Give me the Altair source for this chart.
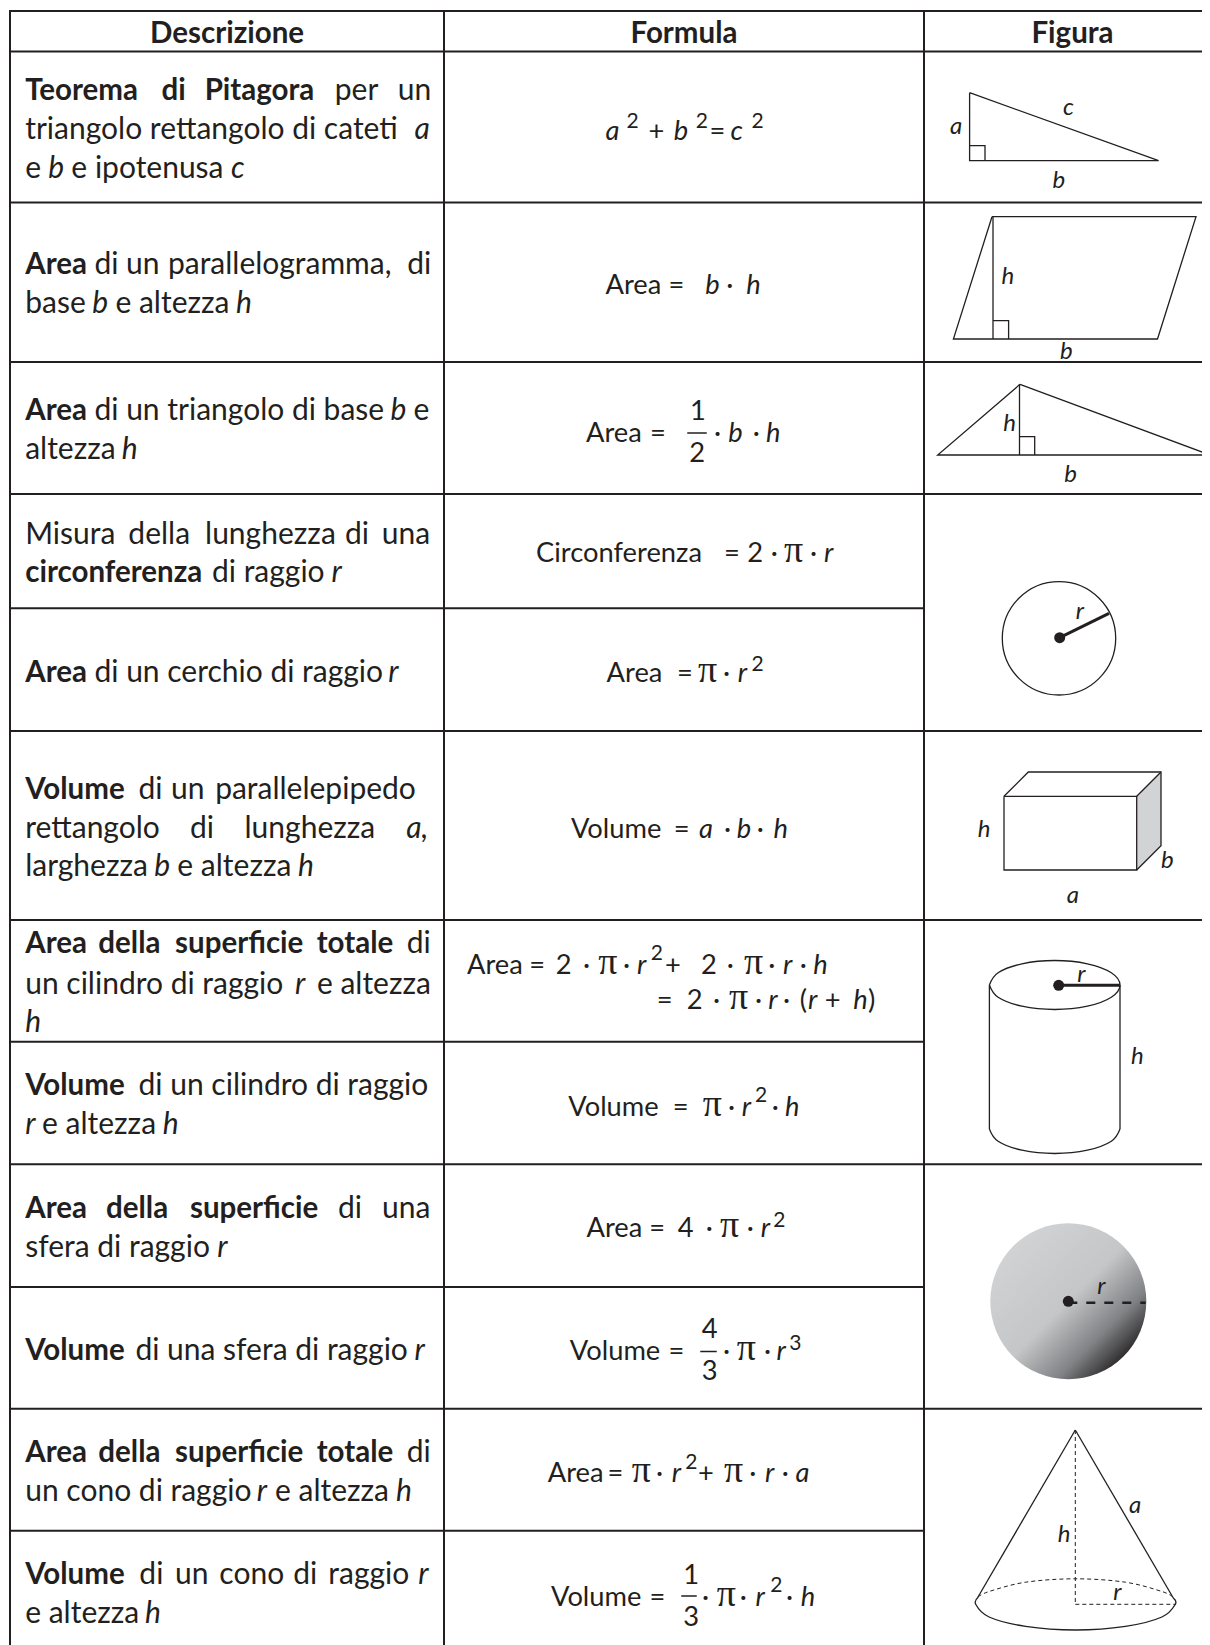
import altair as alt
import pandas as pd

K = 1210 / 1153
INK = "#231f20"
BODY = 30
HEAD = 29.5
FORM = 27.3

# ---- table rules: (x1, y1, x2, y2)
GRID = [
    (10, 11, 1202, 11), (10, 51.5, 1202, 51.5), (10, 202.5, 1202, 202.5),
    (10, 362, 1202, 362), (10, 494, 1202, 494), (10, 608.3, 924, 608.3),
    (10, 731, 1202, 731), (10, 920, 1202, 920), (10, 1041.7, 924, 1041.7),
    (10, 1164.3, 1202, 1164.3), (10, 1287, 924, 1287), (10, 1408.7, 1202, 1408.7),
    (10, 1530.7, 924, 1530.7),
    (10, 11, 10, 1645), (444, 11, 444, 1645), (924, 11, 924, 1645),
]
FRAC_BARS = [(688, 433, 706, 433), (701, 1351.5, 716, 1351.5), (682, 1596, 696, 1596)]

HEADERS = [("Descrizione", 227), ("Formula", 684), ("Figura", 1072.5)]

# ---- text runs: (x as read on the shrunk picture, baseline y in full px, text)
BOLD_RUNS = [
    (24, 98.7, "Teorema"), (154, 98.7, "di"), (195, 98.7, "Pitagora"),
    (24, 273.3, "Area"), (24, 418.8, "Area"), (24, 581.4, "circonferenza"),
    (24, 681, "Area"), (24, 797.6, "Volume"),
    (24, 951.7, "Area"), (93.7, 951.7, "della"), (166.8, 951.7, "superficie"), (301.8, 951.7, "totale"),
    (24, 1094.3, "Volume"),
    (24, 1217.4, "Area"), (101, 1217.4, "della"), (181, 1217.4, "superficie"),
    (24, 1359, "Volume"),
    (24, 1461, "Area"), (93.7, 1461, "della"), (166.8, 1461, "superficie"), (301.8, 1461, "totale"),
    (24, 1583.3, "Volume"),
]
REG_RUNS = [
    (319, 98.7, "per"), (379, 98.7, "un"),
    (24, 138, "triangolo rettangolo di cateti"),
    (24, 176.7, "e"), (68, 176.7, "e ipotenusa"),
    (90, 273.3, "di"), (120, 273.3, "un"), (160, 273.3, "parallelogramma,"), (388, 273.3, "di"),
    (24, 312.3, "base"), (110, 312.3, "e altezza"),
    (90, 418.8, "di un triangolo di base"), (394, 418.8, "e"),
    (24, 457.6, "altezza"),
    (24, 542.6, "Misura"), (122.3, 542.6, "della"), (195.4, 542.6, "lunghezza"), (328.8, 542.6, "di"), (363.7, 542.6, "una"),
    (202, 581.4, "di raggio"),
    (90, 681, "di un cerchio di raggio"),
    (132, 797.6, "di"), (163, 797.6, "un"), (205, 797.6, "parallelepipedo"),
    (24, 836.5, "rettangolo"), (181, 836.5, "di"), (233, 836.5, "lunghezza"),
    (24, 875.2, "larghezza"), (169, 875.2, "e altezza"),
    (387.5, 951.7, "di"),
    (24, 992.7, "un cilindro di raggio"), (302, 992.7, "e altezza"),
    (132, 1094.3, "di un cilindro di raggio"),
    (40, 1133.3, "e altezza"),
    (322, 1217.4, "di"), (364, 1217.4, "una"),
    (24, 1256.2, "sfera di raggio"),
    (129, 1359, "di una sfera di raggio"),
    (387.5, 1461, "di"),
    (24, 1500, "un cono di raggio"), (262, 1500, "e altezza"),
    (132.8, 1583.3, "di"), (166.8, 1583.3, "un"), (209, 1583.3, "cono"), (279.5, 1583.3, "di"), (312.9, 1583.3, "raggio"),
    (24, 1622.3, "e altezza"),
]
ITAL_RUNS = [
    (395, 138, "a"), (46, 176.7, "b"), (220, 176.7, "c"),
    (88, 312.3, "b"), (225, 312.3, "h"), (372, 418.8, "b"), (116, 457.6, "h"),
    (316, 581.4, "r"), (370, 681, "r"), (387, 836.5, "a,"), (147, 875.2, "b"), (284, 875.2, "h"),
    (281, 992.7, "r"), (24, 1030.7, "h"), (24, 1133.3, "r"), (155, 1133.3, "h"),
    (207, 1256.2, "r"), (395, 1359, "r"), (244.6, 1500, "r"), (377.4, 1500, "h"),
    (398.6, 1583.3, "r"), (138.2, 1622.3, "h"),
]
FORM_REG = [
    (618, 140, "+"), (676, 140, "="),
    (577, 293.7, "Area"), (637, 293.7, "="), (692, 293.7, "·"),
    (558.4, 441.7, "Area"), (619.4, 441.7, "="), (657.5, 420, "1"), (656.8, 461.7, "2"), (680.4, 441.7, "·"), (717.2, 441.7, "·"),
    (510.8, 561.7, "Circonferenza"), (690, 561.7, "="), (712, 561.7, "2"), (734.4, 561.7, "·"), (771.9, 561.7, "·"),
    (578, 682, "Area"), (645, 682, "="), (689, 682, "·"),
    (544, 837.5, "Volume"), (642, 837.5, "="), (690, 837.5, "·"), (721, 837.5, "·"),
    (445, 974.3, "Area"), (504.4, 974.3, "="), (529.5, 974.3, "2"), (555.5, 974.3, "·"), (593.7, 974.3, "·"),
    (633.7, 974.3, "+"), (668, 974.3, "2"), (692.5, 974.3, "·"), (732, 974.3, "·"), (762, 974.3, "·"),
    (625.8, 1009, "="), (654.4, 1009, "2"), (679.5, 1009, "·"), (719.5, 1009, "·"), (746, 1009, "·"), (762, 1009, "("),
    (786, 1009, "+"), (827, 1009, ")"),
    (541.5, 1115.7, "Volume"), (641, 1115.7, "="), (693.7, 1115.7, "·"), (735.4, 1115.7, "·"),
    (558.9, 1236.7, "Area"), (618.7, 1236.7, "="), (645.8, 1236.7, "4"), (672.4, 1236.7, "·"), (711.5, 1236.7, "·"),
    (543, 1360, "Volume"), (636.9, 1360, "="), (668.6, 1338.3, "4"), (668.6, 1380, "3"), (688.9, 1360, "·"), (728, 1360, "·"),
    (522, 1482, "Area"), (579, 1482, "="), (625, 1482, "·"), (665, 1482, "+"), (714, 1482, "·"), (745, 1482, "·"),
    (525, 1605.6, "Volume"), (619, 1605.6, "="), (651, 1584, "1"), (651, 1626, "3"), (669, 1605.6, "·"), (705, 1605.6, "·"), (749, 1605.6, "·"),
]
FORM_ITAL = [
    (577, 140, "a"), (642, 140, "b"), (696, 140, "c"),
    (672, 293.7, "b"), (711, 293.7, "h"), (694, 441.7, "b"), (730, 441.7, "h"),
    (785.2, 561.7, "r"), (703, 682, "r"), (666, 837.5, "a"), (702, 837.5, "b"), (737, 837.5, "h"),
    (607, 974.3, "r"), (746, 974.3, "r"), (775, 974.3, "h"),
    (732, 1009, "r"), (770, 1009, "r"), (813, 1009, "h"),
    (706.8, 1115.7, "r"), (748, 1115.7, "h"),
    (724.9, 1236.7, "r"), (740, 1360, "r"), (640, 1482, "r"), (729, 1482, "r"), (758, 1482, "a"),
    (720, 1605.6, "r"), (763, 1605.6, "h"),
]
PI_RUNS = [
    (747, 561.7), (665, 682), (570, 974.3), (709, 974.3), (694.7, 1009),
    (669.7, 1115.7), (686, 1236.7), (702, 1360), (602, 1482), (690, 1482), (683, 1605.6),
]
SUP_TWO = [
    (597, 128), (663, 128), (716, 128), (716, 671), (620, 960), (719.5, 1101.7),
    (736.9, 1226.7), (653, 1469), (734, 1592),
]
SUP_THREE = [(752, 1350)]

# ---- figure labels: (x, baseline, text) in full px
FIG_LABELS = [
    (950, 132.7, "a"), (1063, 114, "c"), (1052.5, 187, "b"),
    (1001.6, 283, "h"), (1060, 358.3, "b"),
    (1003.3, 430, "h"), (1064.3, 480.7, "b"),
    (1075.7, 618.3, "r"),
    (977.7, 836, "h"), (1161, 866.7, "b"), (1066.7, 901.7, "a"),
    (1077.3, 980.7, "r"), (1131, 1063.3, "h"),
    (1097.3, 1292.7, "r"),
    (1129, 1511.7, "a"), (1057.7, 1541, "h"), (1113.3, 1599, "r"),
]

# ---- figure outlines, in full px
STRAIGHT = {
    "tri": [(969.6, 92.7), (969.6, 160.7), (1158.6, 160.7), (969.6, 92.7)],
    "tri_sq": [(969.6, 145.7), (985, 145.7), (985, 160.7)],
    "par": [(992, 216.7), (1196, 216.7), (1157.5, 339), (953.4, 339), (992, 216.7)],
    "par_h": [(993, 216.7), (993, 339)],
    "par_sq": [(993, 320.7), (1008.6, 320.7), (1008.6, 339)],
    "tr3": [(1020, 384.3), (937.7, 455), (1210, 455), (1020, 384.3)],
    "tr3_h": [(1019.5, 384.3), (1019.5, 455)],
    "tr3_sq": [(1019.5, 436.7), (1034.7, 436.7), (1034.7, 455)],
    "box": [(1004, 796.3), (1136.7, 796.3), (1136.7, 870), (1004, 870), (1004, 796.3)],
    "box_top": [(1004, 796.3), (1028.3, 772), (1161, 772), (1161, 845.7), (1136.7, 870)],
    "box_edge": [(1136.7, 796.3), (1161, 772)],
    "cyl_l": [(989.4, 985), (989.4, 1129)],
    "cyl_r": [(1120, 985), (1120, 1129)],
    "cone_l": [(1075.3, 1430), (978, 1597)],
    "cone_r": [(1075.3, 1430), (1173.3, 1598)],
}
CURVED = {
    "cyl_bot": [(989.4, 1129), (998.1, 1141.2), (1022, 1150.2), (1054.7, 1153.5),
                (1087.4, 1150.2), (1111.3, 1141.2), (1120, 1129)],
    "cyl_top": [(989.4, 985), (998.1, 972.75), (1022, 963.8), (1054.7, 960.5),
                (1087.4, 963.8), (1111.3, 972.75), (1120, 985),
                (1111.3, 997.25), (1087.4, 1006.2), (1054.7, 1009.5),
                (1022, 1006.2), (998.1, 997.25), (989.4, 985)],
    "cone_bot": [(978.3, 1597), (975.7, 1604.3), (989.1, 1617), (1025.6, 1626.4), (1075.5, 1630),
                 (1125.4, 1626.4), (1161.9, 1617), (1175.3, 1604.3), (1173.3, 1598)],
}
DASHED_THIN = {
    "cone_v": [(1075.3, 1430), (1075.3, 1604.3)],
    "cone_r": [(1075.3, 1604.3), (1175, 1604.3)],
}
DASHED_CURVE = [(978, 1597), (989.1, 1591.5), (1025.6, 1582.2), (1075.5, 1578.8),
                (1125.4, 1582.2), (1161.9, 1591.5), (1173, 1597)]
THICK = {
    "cir_r": [(1059.7, 637.7), (1109, 613.3)],
    "cyl_r": [(1058.7, 985.3), (1120, 985.3)],
}
SPHERE_R = [(1068.3, 1302.7), (1145.7, 1302.7)]
GRAY_FACE = [(1136.7, 796.3), (1161, 772), (1161, 845.7), (1136.7, 870), (1136.7, 796.3)]
DOTS = [(1059.7, 637.7), (1058.7, 985.3), (1068.3, 1301.3)]
CIRCLE = [(1059, 638.3)]
SPHERE = [(1068.3, 1301.3)]

xs = alt.Scale(domain=[8, 1202], range=[0, 1194])
ys = alt.Scale(domain=[8, 1645], range=[0, 1637])
X = alt.X("x:Q", scale=xs, axis=None)
Y = alt.Y("y:Q", scale=ys, axis=None)


def seg_df(rows):
    return pd.DataFrame(rows, columns=["x", "y", "x2", "y2"])


def paths_df(paths):
    rows = []
    for name, pts in paths.items():
        for i, (px, py) in enumerate(pts):
            rows.append({"g": name, "i": i, "x": px, "y": py})
    return pd.DataFrame(rows)


def rule_layer(rows, width):
    return alt.Chart(seg_df(rows)).mark_rule(color=INK, strokeWidth=width, strokeCap="square").encode(
        x=X, y=Y, x2="x2:Q", y2="y2:Q")


def line_layer(paths, width, **kw):
    return alt.Chart(paths_df(paths)).mark_line(color=INK, strokeWidth=width, clip=True, **kw).encode(
        x=X, y=Y, detail="g:N", order="i:Q")


def text_layer(rows, **kw):
    df = pd.DataFrame(rows, columns=["x", "y", "t"])
    return alt.Chart(df).mark_text(align="left", baseline="alphabetic", color=INK, font="Lato", **kw).encode(
        x=X, y=Y, text="t:N")


def scaled(rows):
    return [(a * K, b, c) for a, b, c in rows]


gradient = alt.LinearGradient(
    gradient="linear", x1=0.12, y1=0.12, x2=0.88, y2=0.88,
    stops=[alt.GradientStop(offset=0, color="#d1d3d4"),
           alt.GradientStop(offset=0.5, color="#c4c6c8"),
           alt.GradientStop(offset=0.78, color="#808285"),
           alt.GradientStop(offset=1, color="#231f20")],
)

layers = [
    alt.Chart(pd.DataFrame([{"x": p[0], "y": p[1]} for p in SPHERE])).mark_circle(
        size=24336, fill=gradient, opacity=1, fillOpacity=1).encode(x=X, y=Y),
    alt.Chart(pd.DataFrame([{"x": p[0], "y": p[1], "i": i, "g": "f"} for i, p in enumerate(GRAY_FACE)]))
    .mark_line(color="#d1d3d4", fill="#d1d3d4", strokeWidth=0).encode(x=X, y=Y, order="i:Q"),
    rule_layer(GRID, 2),
    rule_layer(FRAC_BARS, 1.5),
    line_layer(STRAIGHT, 1.3),
    line_layer(CURVED, 1.3, interpolate="cardinal", tension=0),
    line_layer(DASHED_THIN, 1, strokeDash=[4, 3]),
    line_layer({"cone_top": DASHED_CURVE}, 1, strokeDash=[4, 3], interpolate="cardinal", tension=0),
    line_layer(THICK, 3),
    line_layer({"sph": SPHERE_R}, 2.5, strokeDash=[9, 9]),
    alt.Chart(pd.DataFrame([{"x": p[0], "y": p[1]} for p in CIRCLE])).mark_point(
        size=12860, shape="circle", filled=False, color=INK, strokeWidth=1.3, opacity=1).encode(x=X, y=Y),
    alt.Chart(pd.DataFrame([{"x": p[0], "y": p[1]} for p in DOTS])).mark_circle(
        size=121, color=INK, opacity=1).encode(x=X, y=Y),
    alt.Chart(pd.DataFrame([{"t": t, "x": px, "y": 41.7} for t, px in HEADERS])).mark_text(
        align="center", baseline="alphabetic", color=INK, font="Lato", fontWeight="bold", fontSize=HEAD, dy=1).encode(
        x=X, y=Y, text="t:N"),
    text_layer(scaled(BOLD_RUNS), fontSize=HEAD, fontWeight="bold", dy=1),
    text_layer(scaled(REG_RUNS), fontSize=BODY, dy=1),
    text_layer(scaled(ITAL_RUNS), fontSize=BODY, fontStyle="italic", dy=1),
    text_layer(scaled(FORM_REG), fontSize=FORM),
    text_layer(scaled(FORM_ITAL), fontSize=FORM, fontStyle="italic"),
    alt.Chart(pd.DataFrame([{"x": a * K, "y": b, "t": "π"} for a, b in PI_RUNS])).mark_text(
        align="left", baseline="alphabetic", color=INK, font="Liberation Serif", fontSize=38).encode(
        x=X, y=Y, text="t:N"),
    text_layer([(a * K, b, "2") for a, b in SUP_TWO] + [(a * K, b, "3") for a, b in SUP_THREE], fontSize=21),
    text_layer(FIG_LABELS, fontSize=24, fontStyle="italic", dy=1),
]

chart = alt.layer(*layers).properties(
    width=1194, height=1637, padding=0, autosize=alt.AutoSizeParams(type="none"),
    background="white",
).configure_view(stroke=None)

chart.save("out.html", embed_options={"renderer": "svg", "actions": False})
